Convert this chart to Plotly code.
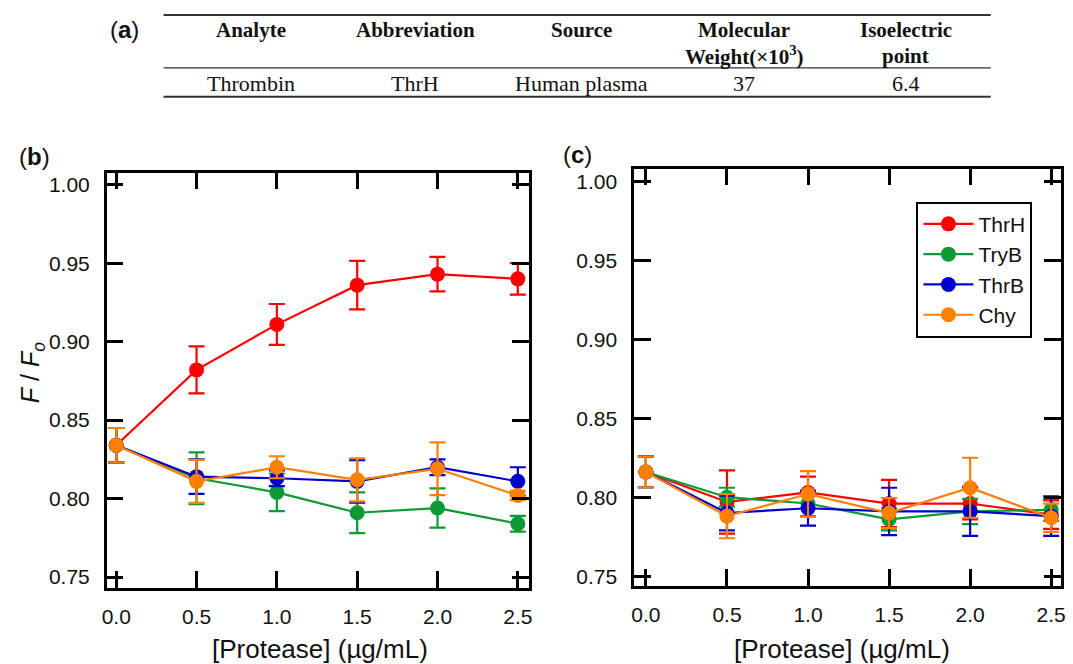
import plotly.graph_objects as go

# ---------------- data ----------------
conc = [0.0, 0.5, 1.0, 1.5, 2.0, 2.5]
series_names = ["ThrH", "TryB", "ThrB", "Chy"]
series_colors = ["#FF0000", "#0C9A35", "#0000CC", "#FF8000"]

# panel (b): ThrH sensor
b_ThrH = [0.834, 0.882, 0.911, 0.936, 0.943, 0.940]
b_ThrH_err = [0.011, 0.015, 0.013, 0.0155, 0.011, 0.010]
b_TryB = [0.834, 0.813, 0.804, 0.791, 0.794, 0.784]
b_TryB_err = [0.011, 0.0165, 0.012, 0.013, 0.0125, 0.005]
b_ThrB = [0.834, 0.814, 0.813, 0.811, 0.820, 0.811]
b_ThrB_err = [0.011, 0.011, 0.005, 0.0135, 0.005, 0.009]
b_Chy = [0.834, 0.811, 0.820, 0.812, 0.819, 0.802]
b_Chy_err = [0.011, 0.0137, 0.007, 0.0137, 0.0168, 0.003]

# panel (c)
c_ThrH = [0.816, 0.797, 0.803, 0.796, 0.796, 0.789]
c_ThrH_err = [0.0097, 0.020, 0.010, 0.015, 0.010, 0.009]
c_TryB = [0.816, 0.800, 0.796, 0.786, 0.791, 0.792]
c_TryB_err = [0.0097, 0.006, 0.008, 0.007, 0.008, 0.007]
c_ThrB = [0.816, 0.790, 0.793, 0.791, 0.791, 0.788]
c_ThrB_err = [0.0097, 0.011, 0.011, 0.015, 0.0155, 0.0125]
c_Chy = [0.816, 0.788, 0.802, 0.790, 0.806, 0.787]
c_Chy_err = [0.0097, 0.014, 0.0145, 0.0095, 0.019, 0.009]

# table (a)
table_headers = [["Analyte"], ["Abbreviation"], ["Source"],
                 ["Molecular", "Weight(×10<sup>3</sup>)"], ["Isoelectric", "point"]]
table_row = ["Thrombin", "ThrH", "Human plasma", "37", "6.4"]

x_title = "[Protease] (µg/mL)"
y_title = "<i>F</i> / <i>F<sub>o</sub></i>"

# ---------------- figure ----------------
W, H = 1073, 664
fig = go.Figure()

def px(x):
    return x / W

def py(y):
    return 1 - y / H

b_vals = [(b_ThrH, b_ThrH_err), (b_TryB, b_TryB_err), (b_ThrB, b_ThrB_err), (b_Chy, b_Chy_err)]
c_vals = [(c_ThrH, c_ThrH_err), (c_TryB, c_TryB_err), (c_ThrB, c_ThrB_err), (c_Chy, c_Chy_err)]

for (vals, errs), name, col in zip(b_vals, series_names, series_colors):
    fig.add_trace(go.Scatter(
        x=conc, y=vals, name=name, mode="lines+markers",
        line=dict(color=col, width=2.2),
        marker=dict(color=col, size=15),
        error_y=dict(type="data", array=errs, color=col, thickness=2.2, width=8),
        xaxis="x", yaxis="y", showlegend=False))

for (vals, errs), name, col in zip(c_vals, series_names, series_colors):
    fig.add_trace(go.Scatter(
        x=conc, y=vals, name=name, mode="lines+markers",
        line=dict(color=col, width=2.2),
        marker=dict(color=col, size=15),
        error_y=dict(type="data", array=errs, color=col, thickness=2.2, width=8),
        xaxis="x2", yaxis="y2", showlegend=True))

tickfont = dict(family="Liberation Sans, Arial, sans-serif", size=21, color="#111")
axis_common = dict(
    showline=True, linewidth=2.5, linecolor="black", mirror="ticks",
    ticks="inside", ticklen=17, tickwidth=2.5, tickcolor="black",
    showgrid=False, zeroline=False, tickfont=tickfont,
)

fig.update_layout(
    width=W, height=H,
    margin=dict(l=0, r=0, t=0, b=0),
    paper_bgcolor="white", plot_bgcolor="white",
    xaxis=dict(domain=[px(102.7), px(529)], range=[-0.059, 2.570], dtick=0.5, tick0=0,
               tickformat=".1f", anchor="y", ticklabelstandoff=8, **axis_common),
    yaxis=dict(domain=[py(589), py(173)], range=[0.743, 1.0076], dtick=0.05, tick0=0.75,
               tickformat=".2f", anchor="x", ticklabelstandoff=10, **axis_common),
    xaxis2=dict(domain=[px(635), px(1066)], range=[-0.073, 2.561], dtick=0.5, tick0=0,
                tickformat=".1f", anchor="y2", ticklabelstandoff=8, **axis_common),
    yaxis2=dict(domain=[py(587), py(169)], range=[0.7437, 1.008], dtick=0.05, tick0=0.75,
                tickformat=".2f", anchor="x2", ticklabelstandoff=10, **axis_common),
    legend=dict(x=px(920), y=py(202), xanchor="left", yanchor="top",
                bordercolor="black", borderwidth=2, bgcolor="white",
                font=dict(family="Liberation Sans, Arial, sans-serif", size=21, color="#111"),
                tracegroupgap=0, itemwidth=50),
    showlegend=True,
)

ann = []
title_font = dict(family="Liberation Sans, Arial, sans-serif", size=26, color="#111")
# x titles
ann.append(dict(text=x_title, x=px(318), y=py(650), xref="paper", yref="paper",
                showarrow=False, font=title_font, xanchor="center", yanchor="middle"))
ann.append(dict(text=x_title, x=px(845), y=py(650), xref="paper", yref="paper",
                showarrow=False, font=title_font, xanchor="center", yanchor="middle"))
# y title
ann.append(dict(text=y_title, x=px(28), y=py(373), xref="paper", yref="paper",
                showarrow=False, font=dict(family="Liberation Sans, Arial, sans-serif",
                                           size=25, color="#111"),
                textangle=-90, xanchor="center", yanchor="middle"))
# panel labels
lab_font = dict(family="Liberation Sans, Arial, sans-serif", size=24, color="#111")
ann.append(dict(text="(<b>b</b>)", x=px(12), y=py(157), xref="paper", yref="paper",
                showarrow=False, font=lab_font, xanchor="left", yanchor="middle"))
ann.append(dict(text="(<b>c</b>)", x=px(561), y=py(155), xref="paper", yref="paper",
                showarrow=False, font=lab_font, xanchor="left", yanchor="middle"))
ann.append(dict(text="(<b>a</b>)", x=px(104), y=py(30), xref="paper", yref="paper",
                showarrow=False, font=lab_font, xanchor="left", yanchor="middle"))

# table text
col_centers = [248, 414, 582, 746, 909]
serif_b = dict(family="Liberation Serif, serif", size=21, color="#111")
serif = dict(family="Liberation Serif, serif", size=22, color="#111")
for cx, hdr in zip(col_centers, table_headers):
    for i, line in enumerate(hdr):
        ann.append(dict(text="<b>" + line + "</b>", x=px(cx), y=py(30 + 26 * i),
                        xref="paper", yref="paper", showarrow=False, font=serif_b,
                        xanchor="center", yanchor="middle"))
for cx, val in zip(col_centers, table_row):
    ann.append(dict(text=val, x=px(cx), y=py(84), xref="paper", yref="paper",
                    showarrow=False, font=serif, xanchor="center", yanchor="middle"))
fig.update_layout(annotations=ann)

shapes = [
    dict(type="line", xref="paper", yref="paper", x0=px(160), x1=px(995),
         y0=py(15), y1=py(15), line=dict(color="#333", width=2)),
    dict(type="line", xref="paper", yref="paper", x0=px(160), x1=px(995),
         y0=py(68), y1=py(68), line=dict(color="#333", width=1.2)),
    dict(type="line", xref="paper", yref="paper", x0=px(160), x1=px(995),
         y0=py(97), y1=py(97), line=dict(color="#333", width=2)),
]
fig.update_layout(shapes=shapes)

fig.write_html("out.html", config={"displayModeBar": False},
               post_script="document.body.style.margin='0';document.body.style.overflow='hidden';")
